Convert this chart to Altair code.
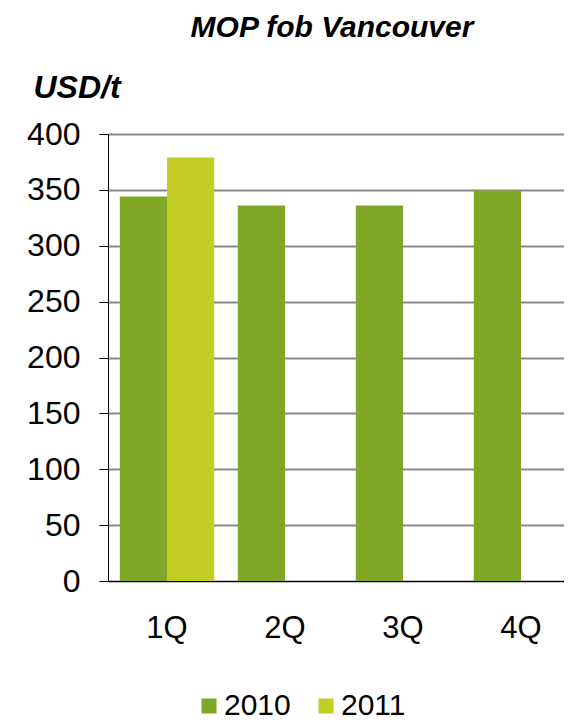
import altair as alt
import pandas as pd

quarters = ["1Q", "2Q", "3Q", "4Q"]
values_2010 = [344, 336, 336, 349.5]
values_2011 = [379, None, None, None]
years = ["2010", "2011"]
colors = ["#80A826", "#C2CE23"]

rows = []
for q, v in zip(quarters, values_2010):
    rows.append({"quarter": q, "year": "2010", "price": v})
for q, v in zip(quarters, values_2011):
    if v is not None:
        rows.append({"quarter": q, "year": "2011", "price": v})
df = pd.DataFrame(rows)

FONT = "Liberation Sans"

chart = alt.Chart(df).mark_bar().encode(
    x=alt.X("quarter:N", sort=quarters,
            scale=alt.Scale(range=[0, 472], paddingInner=0.2, paddingOuter=0.1),
            axis=alt.Axis(title=None, labelAngle=0, ticks=False, labelPadding=32,
                          labelFontSize=31, labelFont=FONT, labelColor="black",
                          domainColor="black", domainWidth=1, grid=False)),
    xOffset=alt.XOffset("year:N", sort=years, scale=alt.Scale(domain=years, paddingInner=0, paddingOuter=0)),
    y=alt.Y("price:Q", scale=alt.Scale(domain=[0, 400], nice=False),
            axis=alt.Axis(values=list(range(0, 401, 50)), title="USD/t", titleAngle=0,
                          titleAlign="left", titleBaseline="alphabetic", titleX=-75, titleY=-37,
                          titleFont=FONT, titleFontSize=32, titleFontStyle="italic",
                          titleFontWeight="bold", titleColor="black",
                          labelFontSize=32, labelFont=FONT, labelColor="black", labelPadding=19,
                          tickSize=9, tickColor="black", tickWidth=1,
                          domainColor="black", domainWidth=1,
                          gridColor="#888888", gridWidth=2)),
    color=alt.Color("year:N", sort=years, scale=alt.Scale(domain=years, range=colors),
                    legend=alt.Legend(title=None, orient="none", direction="horizontal",
                                      legendX=86, legendY=557, symbolType="square", symbolSize=225,
                                      symbolStrokeWidth=0, labelFontSize=30, labelFont=FONT,
                                      labelColor="black", labelOffset=0, columnPadding=20,
                                      padding=0)),
).properties(
    width=456, height=447,
    title=alt.TitleParams("MOP fob Vancouver", font=FONT, fontSize=30, fontStyle="italic",
                          fontWeight="bold", color="black", anchor="middle", baseline="alphabetic",
                          offset=4, dx=-4),
    autosize=alt.AutoSizeParams(type="none"),
    padding={"left": 100, "top": 126, "right": 0, "bottom": 140},
).configure_view(stroke=None)

chart.save("out.html", embed_options={"renderer": "svg", "actions": False})
